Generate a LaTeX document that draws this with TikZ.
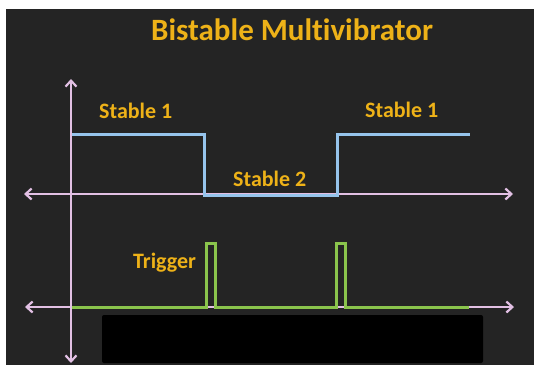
\documentclass[tikz,border=0pt]{standalone}
\usepackage{fontspec}
\setmainfont{Carlito}[Ligatures=NoCommon]
\usetikzlibrary{arrows.meta,positioning}

\definecolor{bgdark}{RGB}{36,36,36}
\definecolor{labelorange}{RGB}{238,178,24}
\definecolor{axislilac}{RGB}{226,192,228}
\definecolor{outblue}{RGB}{150,196,236}
\definecolor{trigreen}{RGB}{138,196,76}

\begin{document}
\begin{tikzpicture}[
  x=1pt, y=-1pt,
  every node/.style={text=labelorange, font=\bfseries, inner sep=0pt},
  heading/.style={font=\bfseries\fontsize{31}{36}\selectfont},
  statelabel/.style={anchor=base west, font=\bfseries\fontsize{22}{26}\selectfont},
  axis/.style={draw=axislilac, line width=2.2pt, {Straight Barb[length=6pt,width=11pt]}-{Straight Barb[length=6pt,width=11pt]}},
  output/.style={draw=outblue, line width=3pt, line join=miter},
  pulse/.style={draw=trigreen, line width=3pt, line join=miter}
]
\useasboundingbox (0,0) rectangle (534,365);
\fill[white] (0,0) rectangle (534,365);
\fill[bgdark] (6,9) rectangle (534,365);

% axes
\coordinate (ytop) at (71,79);
\coordinate (ybot) at (71,363);
\coordinate (upleft) at (24,194);
\coordinate (upright) at (513,194);
\coordinate (lowleft) at (25,307);
\coordinate (lowright) at (514,307);
\draw[axis] (ytop) -- (ybot);
\draw[axis] (upleft) -- (upright);
\draw[axis] (lowleft) -- (lowright);

% output waveform
\draw[output] (72,134) -- (204,134) -- (204,195) -- (337,195) -- (337,134) -- (470,134);

% trigger pulses
\draw[pulse] (72,307) -- (206,307) -- (206,243) -- (215,243) -- (215,307)
  -- (336,307) -- (336,243) -- (345,243) -- (345,307) -- (469,307);

% covered strip
\fill[black, rounded corners=2pt] (102,315) rectangle (483,363);

% labels
\node[heading, anchor=base] (title) at (292,40) {Bistable Multivibrator};
\node[statelabel] (stableA) at (99,118) {Stable 1};
\node[statelabel] (stableB) at (233,186) {Stable 2};
\node[statelabel] (stableC) at (365,117) {Stable 1};
\node[statelabel] (trigger) at (133,268) {Trigger};
\end{tikzpicture}
\end{document}
